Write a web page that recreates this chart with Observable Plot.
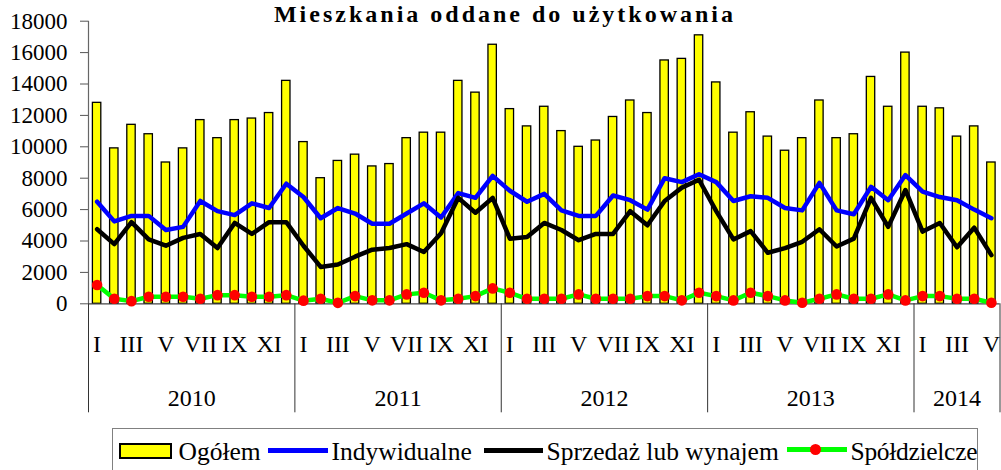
<!DOCTYPE html>
<html>
<head>
<meta charset="utf-8">
<script src="https://cdn.jsdelivr.net/npm/d3@7"></script>
<script src="https://cdn.jsdelivr.net/npm/@observablehq/plot@0.6"></script>
<style>
  body { margin: 0; background: #fff; }
  #wrap { position: relative; width: 1001px; height: 470px; overflow: hidden;
          font-family: "Liberation Serif", "Times New Roman", serif; color: #000; }
  #chart { position: absolute; left: 0; top: 0; }
  #title { position: absolute; left: 0; width: 1010px; top: 1.5px; text-align: center;
           font-weight: bold; font-size: 24px; line-height: 24px; letter-spacing: 3px; white-space: nowrap; }
  #legend { position: absolute; left: 112px; top: 428px; width: 866px; height: 60px;
            border: 1.5px solid #808080; box-sizing: border-box; background: #fff; }
  #legend .sw { position: absolute; box-sizing: border-box; }
  #legend .tx { position: absolute; top: 9.6px; font-size: 25.5px; line-height: 25.5px; white-space: nowrap; }
</style>
</head>
<body>
<div id="wrap">
  <div id="chart"></div>
  <div id="title"></div>
  <div id="legend"></div>
</div>
<script>
// ---- data ----
const years = ["2010", "2011", "2012", "2013", "2014"];
const monthLabels = ["I", "II", "III", "IV", "V", "VI", "VII", "VIII", "IX", "X", "XI", "XII"];
const seriesNames = ["Ogółem", "Indywidualne", "Sprzedaż lub wynajem", "Spółdzielcze"];
const titleText = "Mieszkania oddane do użytkowania";
const yTicks = [0, 2000, 4000, 6000, 8000, 10000, 12000, 14000, 16000, 18000];

const ogolem = [
  12800, 9900, 11400, 10800, 9000, 9900, 11700, 10550, 11700, 11800, 12150, 14200,
  10300, 8000, 9100, 9500, 8750, 8900, 10550, 10900, 10900, 14200, 13450, 16500,
  12400, 11300, 12550, 11000, 10000, 10400, 11900, 12950, 12150, 15500, 15600, 17100,
  14100, 10900, 12200, 10650, 9750, 10550, 12950, 10550, 10800, 14450, 12550, 16000,
  12550, 12450, 10650, 11300, 9000
];
const indywidualne = [
  6500, 5250, 5600, 5600, 4700, 4900, 6550, 5900, 5650, 6400, 6100, 7650,
  6800, 5450, 6100, 5750, 5100, 5100, 5750, 6400, 5500, 7050, 6750, 8150,
  7200, 6500, 7000, 5950, 5600, 5600, 6900, 6600, 6000, 8000, 7750, 8250,
  7750, 6550, 6850, 6750, 6100, 5950, 7700, 5950, 5700, 7450, 6600, 8200,
  7150, 6800, 6600, 6000, 5450
];
const sprzedaz = [
  4750, 3800, 5200, 4100, 3700, 4200, 4450, 3550, 5150, 4450, 5200, 5200,
  3700, 2350, 2500, 3000, 3450, 3550, 3800, 3300, 4500, 6750, 5800, 6750,
  4150, 4250, 5150, 4700, 4050, 4450, 4450, 5900, 5000, 6550, 7400, 7900,
  5900, 4100, 4630, 3250, 3550, 3950, 4750, 3650, 4150, 6750, 4900, 7250,
  4600, 5150, 3600, 4850, 3100
];
const spoldzielcze = [
  1200, 320, 170, 450, 450, 450, 320, 550, 550, 450, 450, 550,
  200, 320, 60, 490, 220, 220, 600, 700, 220, 320, 490, 980,
  700, 320, 320, 320, 600, 320, 320, 320, 490, 490, 220, 700,
  490, 215, 700, 490, 215, 65, 320, 600, 320, 320, 600, 215,
  490, 490, 320, 320, 65
];

// ---- tables built from the arrays ----
const rows = ogolem.map((v, i) => ({
  i, year: years[Math.floor(i / 12)], month: monthLabels[i % 12],
  ogolem: v, indyw: indywidualne[i], sprz: sprzedaz[i], spold: spoldzielcze[i]
}));
const yearRows = years.map((y, k) => ({year: y, start: k * 12, end: Math.min(k * 12 + 12, rows.length)}));
const bounds = [0, ...yearRows.map(d => d.end)];
const mid = d => d.i + 0.5;

const chart = Plot.plot({
  width: 1001, height: 470,
  marginLeft: 88, marginRight: 1.5, marginTop: 20.7, marginBottom: 166.7,
  style: {fontFamily: '"Liberation Serif", "Times New Roman", serif', background: "transparent", color: "#000"},
  x: {type: "linear", domain: [0, rows.length], axis: null},
  y: {domain: [0, 18000], axis: null},
  marks: [
    Plot.rect(rows, {x1: "i", x2: d => d.i + 1, y1: 0, y2: "ogolem", insetLeft: 4.4, insetRight: 4.4,
      fill: "#FFFF00", stroke: "#000", strokeWidth: 1.3}),
    Plot.ruleY([0], {stroke: "#444", strokeWidth: 1.2}),
    Plot.ruleX([0], {stroke: "#666", strokeWidth: 1.2}),
    Plot.axisY({ticks: yTicks, tickSize: 8, tickPadding: 13, tickFormat: d => String(d),
      fontSize: 23, stroke: "#555", label: null}),
    Plot.axisX({ticks: bounds, tickSize: 109, tickFormat: () => "", stroke: "#333", label: null}),
    Plot.lineY(rows, {x: mid, y: "indyw", stroke: "#0000FF", strokeWidth: 4.5}),
    Plot.lineY(rows, {x: mid, y: "sprz", stroke: "#000000", strokeWidth: 4.5}),
    Plot.lineY(rows, {x: mid, y: "spold", stroke: "#00FF00", strokeWidth: 4.5}),
    Plot.dot(rows, {x: mid, y: "spold", r: 5.3, fill: "#FF0000"}),
    Plot.text(rows.filter(d => (d.i % 12) % 2 === 0), {x: mid, text: "month", frameAnchor: "bottom",
      lineAnchor: "bottom", dy: 48.4, fontSize: 24, fill: "#000", ariaLabel: "month labels"}),
    Plot.text(yearRows, {x: d => (d.start + d.end) / 2, text: "year", frameAnchor: "bottom",
      lineAnchor: "bottom", dy: 101.7, fontSize: 24, fill: "#000", ariaLabel: "year labels"})
  ]
});

// slightly taller category labels, as in the reference
d3.select(chart).selectAll('g[aria-label="month labels"] text, g[aria-label="year labels"] text').each(function () {
  const t = this.getAttribute("transform");
  if (t) this.setAttribute("transform", t + " scale(1,1.14)");
  else {
    const x = +this.getAttribute("x") || 0, y = +this.getAttribute("y") || 0;
    this.setAttribute("transform", `translate(${x},${y}) scale(1,1.14) translate(${-x},${-y})`);
  }
});

document.getElementById("chart").appendChild(chart);
document.getElementById("title").textContent = titleText;

// legend
const lg = document.getElementById("legend");
function add(cls, css, text) {
  const e = document.createElement("div");
  e.className = cls; e.style.cssText = css;
  if (text) e.textContent = text;
  lg.appendChild(e);
}
add("sw", "left:5.5px;top:13.5px;width:53px;height:16px;background:#FFFF00;border:2px solid #000;");
add("tx", "left:65.5px;", seriesNames[0]);
add("sw", "left:154.5px;top:19px;width:60px;height:5px;background:#0000FF;");
add("tx", "left:218.5px;", seriesNames[1]);
add("sw", "left:370.5px;top:19px;width:59px;height:5px;background:#000;");
add("tx", "left:433.5px;", seriesNames[2]);
add("sw", "left:673.5px;top:18px;width:60px;height:5px;background:#00FF00;");
add("sw", "left:697px;top:14.5px;width:11px;height:11px;border-radius:50%;background:#FF0000;");
add("tx", "left:737.5px;letter-spacing:-0.3px;", seriesNames[3]);
</script>
</body>
</html>
